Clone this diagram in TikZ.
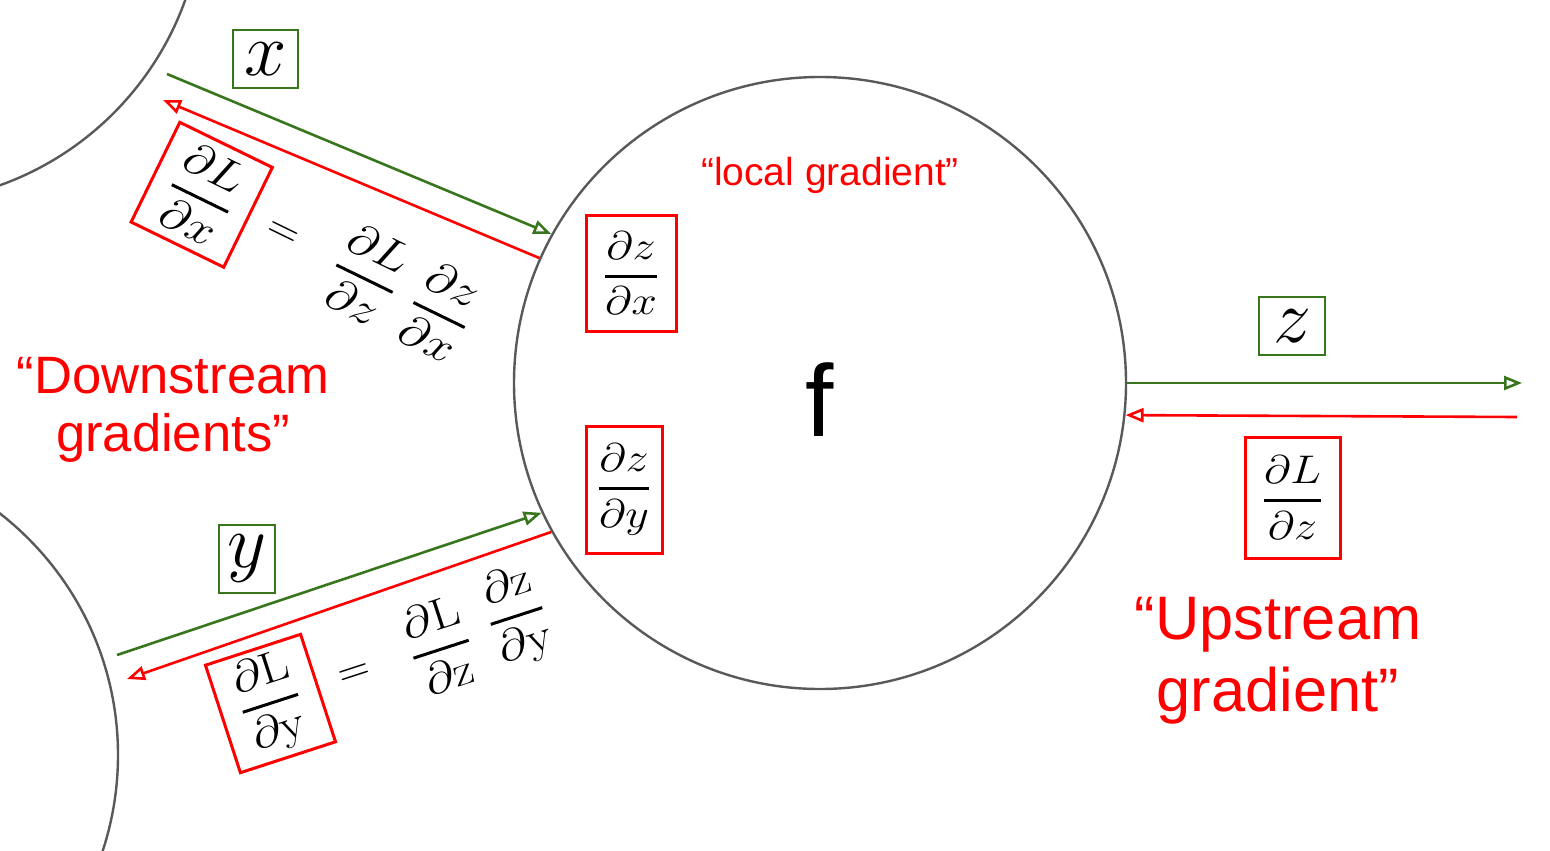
\RequirePackage{fix-cm}
\documentclass[tikz,border=0pt]{standalone}
\usepackage{amsmath, amssymb}
\usepackage{graphicx}
\usepackage[no-math]{fontspec}
\setmainfont{Liberation Sans}
\usepackage{tikz}
\usetikzlibrary{arrows.meta}

\definecolor{gradred}{RGB}{255,0,0}
\definecolor{fwdgreen}{RGB}{56,118,29}
\definecolor{nodegray}{RGB}{89,89,89}
\newcommand{\wfrac}[2]{\scalebox{1.15}[1]{$\genfrac{}{}{1.5pt}{0}{#1}{#2}$}}

\begin{document}
\begin{tikzpicture}[x=0.5pt, y=-0.5pt,
  varbox/.style={draw=fwdgreen, line width=1.4pt, inner sep=0pt, font=\fontsize{38}{40}\selectfont},
  gradbox/.style={draw=gradred, line width=1.5pt, inner sep=0pt},
  fracfont/.style={font=\fontsize{20}{24}\selectfont},
  eqfont/.style={font=\fontsize{22}{26}\selectfont},
  fwd/.style={draw=fwdgreen, line width=1.3pt, -{Triangle[open, length=9pt, width=7pt]}},
  bwd/.style={draw=gradred, line width=1.3pt, -{Triangle[open, length=9pt, width=7pt]}},
  note/.style={text=gradred, align=center}]
  \useasboundingbox (0,0) rectangle (1550,850);
  \clip (0,0) rectangle (1550,850);

  % 节点
  \node[circle, draw=nodegray, line width=1.2pt, minimum size=306pt, inner sep=0pt] (fcirc) at (820,383) {};
  \node[circle, draw=nodegray, line width=1.2pt, minimum size=306pt, inner sep=0pt] (xsrc) at (-103,-103) {};
  \node[circle, draw=nodegray, line width=1.2pt, minimum size=306pt, inner sep=0pt] (ysrc) at (-188,755) {};
  \node[font=\fontsize{51}{55}\selectfont] (flabel) at (820,400) {f};

  % 变量
  \node[varbox, minimum width=32.5pt, minimum height=29pt] (xvar) at (265.5,59) {$x$};
  \node[varbox, minimum width=28pt, minimum height=34pt] (yvar) at (247,559) {$y$};
  \node[varbox, minimum width=33pt, minimum height=29pt] (zvar) at (1292,326) {$z$};

  % 局部梯度 / 上游梯度
  \node[gradbox, fracfont, minimum width=45pt, minimum height=58pt] (dzdx) at (631,273) {\wfrac{\partial z}{\partial x}};
  \node[gradbox, fracfont, minimum width=38pt, minimum height=63.5pt] (dzdy) at (624,489.5) {\wfrac{\partial z}{\partial y}};
  \node[gradbox, fracfont, minimum width=47.5pt, minimum height=60.5pt] (dLdz) at (1292.5,497.5) {\wfrac{\partial L}{\partial z}};

  % 链式法则：x
  \begin{scope}[shift={(201.75,194.75)}, rotate=-26, transform shape]
    \node[gradbox, eqfont, minimum width=51.5pt, minimum height=55.5pt] (dLdx) at (0,0) {\wfrac{\partial L}{\partial x}};
    \node[eqfont] (eqx) at (90,0) {$=$};
    \node[eqfont] (upx) at (183,0) {\wfrac{\partial L}{\partial z}};
    \node[eqfont] (locx) at (266,0) {\wfrac{\partial z}{\partial x}};
  \end{scope}

  % 链式法则：y
  \begin{scope}[shift={(270.5,703.5)}, rotate=18, transform shape]
    \node[gradbox, eqfont, minimum width=50pt, minimum height=56.5pt] (dLdy) at (0,0) {\wfrac{\partial \mathrm{L}}{\partial \mathrm{y}}};
    \node[eqfont] (eqy) at (89,-1) {$=$};
    \node[eqfont] (upy) at (179,-3) {\wfrac{\partial \mathrm{L}}{\partial \mathrm{z}}};
    \node[eqfont] (locy) at (261,-7) {\wfrac{\partial \mathrm{z}}{\partial \mathrm{y}}};
  \end{scope}

  % 文字说明
  \node[note, font=\fontsize{19.5}{23}\selectfont] (localnote) at (830,175) {“local gradient”};
  \node[note, font=\fontsize{26.3}{29}\selectfont] (downnote) at (173,410) {“Downstream\\gradients”};
  \node[note, font=\fontsize{30.7}{36}\selectfont] (upnote) at (1278,661) {“Upstream\\gradient”};

  % 箭头端点
  \coordinate (xin) at (167,74);
  \coordinate (xback) at (163,100);
  \coordinate (yin) at (117,655);
  \coordinate (yback) at (127,679);
  \coordinate (zout) at (1522,383);
  \coordinate (zback) at (1517,417);

  % 前向（绿）与反向（红）
  \draw[fwd] (xin) -- (fcirc.151.6);
  \draw[bwd] (fcirc.156.5) -- (xback);
  \draw[fwd] (yin) -- (fcirc.205.5);
  \draw[bwd] (fcirc.209.5) -- (yback);
  \draw[fwd] (fcirc.east) -- (zout);
  \draw[bwd] (zback) -- (fcirc.-6.4);
\end{tikzpicture}
\end{document}
